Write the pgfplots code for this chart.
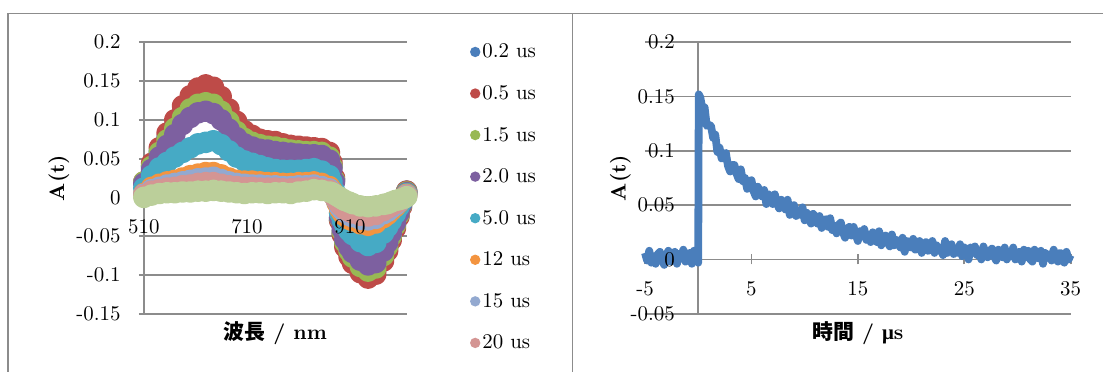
\documentclass[border=0pt]{standalone}
\usepackage{fontspec}
\usepackage{pgfplots}
\pgfplotsset{compat=1.18}
\usepackage{pgfplotstable}
\newfontfamily\cjk{Noto Sans CJK JP}
\newfontfamily\grk{Liberation Serif}
\definecolor{cA}{HTML}{4A7EBB}
\definecolor{cB}{HTML}{BE4B48}
\definecolor{cC}{HTML}{98B954}
\definecolor{cD}{HTML}{7D60A0}
\definecolor{cE}{HTML}{46AAC5}
\definecolor{cF}{HTML}{F39440}
\definecolor{cG}{HTML}{93A9D0}
\definecolor{cH}{HTML}{D49593}
\definecolor{cI}{HTML}{BBCF9A}
\definecolor{gridgray}{HTML}{8C8C8C}

\pgfplotstableread{
wl a b c d e f g h i
510 0.019 0.020 0.020 0.018 0.012 0.005 0.004 0.003 0.000
525 0.040 0.044 0.040 0.036 0.028 0.013 0.010 0.008 0.003
540 0.059 0.064 0.058 0.052 0.038 0.017 0.013 0.010 0.005
555 0.077 0.083 0.074 0.067 0.045 0.020 0.016 0.012 0.006
570 0.093 0.100 0.089 0.081 0.052 0.022 0.018 0.013 0.006
585 0.110 0.118 0.103 0.094 0.058 0.025 0.020 0.015 0.007
600 0.123 0.131 0.114 0.103 0.064 0.028 0.022 0.016 0.007
615 0.133 0.141 0.120 0.109 0.069 0.030 0.024 0.018 0.008
630 0.137 0.145 0.122 0.111 0.071 0.032 0.025 0.019 0.008
645 0.134 0.142 0.120 0.108 0.073 0.032 0.026 0.019 0.009
660 0.121 0.130 0.111 0.100 0.068 0.029 0.023 0.017 0.008
675 0.105 0.114 0.098 0.088 0.060 0.025 0.020 0.015 0.007
690 0.090 0.098 0.085 0.077 0.052 0.022 0.018 0.014 0.006
705 0.079 0.086 0.076 0.069 0.047 0.021 0.017 0.013 0.005
720 0.073 0.080 0.071 0.065 0.044 0.021 0.016 0.013 0.006
735 0.069 0.075 0.068 0.062 0.041 0.020 0.016 0.012 0.006
750 0.067 0.073 0.066 0.061 0.038 0.019 0.015 0.012 0.005
765 0.066 0.072 0.065 0.059 0.036 0.019 0.015 0.012 0.006
780 0.064 0.069 0.063 0.058 0.035 0.018 0.014 0.011 0.006
795 0.062 0.067 0.061 0.057 0.035 0.018 0.014 0.011 0.005
810 0.061 0.066 0.060 0.056 0.035 0.019 0.015 0.012 0.007
825 0.060 0.065 0.059 0.055 0.036 0.019 0.015 0.012 0.008
840 0.059 0.064 0.059 0.055 0.037 0.020 0.016 0.013 0.010
855 0.058 0.063 0.058 0.054 0.034 0.018 0.014 0.011 0.009
870 0.053 0.058 0.052 0.048 0.028 0.014 0.011 0.009 0.007
875 0.041 0.045 0.040 0.037 0.020 0.009 0.007 0.006 0.006
880 0.022 0.025 0.022 0.020 0.008 0.001 0.001 0.001 0.004
885 -0.005 -0.005 -0.004 -0.004 -0.006 -0.007 -0.005 -0.004 0.002
890 -0.029 -0.030 -0.027 -0.026 -0.020 -0.015 -0.012 -0.009 0.000
895 -0.046 -0.048 -0.044 -0.041 -0.029 -0.020 -0.016 -0.012 -0.002
900 -0.060 -0.064 -0.058 -0.054 -0.036 -0.024 -0.019 -0.015 -0.004
908 -0.071 -0.076 -0.069 -0.064 -0.043 -0.028 -0.023 -0.018 -0.006
915 -0.080 -0.085 -0.077 -0.071 -0.048 -0.030 -0.025 -0.020 -0.008
930 -0.091 -0.097 -0.089 -0.081 -0.057 -0.034 -0.028 -0.023 -0.011
945 -0.097 -0.104 -0.095 -0.087 -0.062 -0.036 -0.029 -0.024 -0.012
960 -0.093 -0.099 -0.091 -0.084 -0.058 -0.033 -0.027 -0.022 -0.011
975 -0.077 -0.082 -0.075 -0.069 -0.046 -0.026 -0.021 -0.017 -0.009
983 -0.065 -0.069 -0.063 -0.058 -0.038 -0.022 -0.018 -0.014 -0.008
990 -0.051 -0.055 -0.050 -0.046 -0.030 -0.017 -0.014 -0.011 -0.006
998 -0.037 -0.040 -0.036 -0.033 -0.021 -0.012 -0.010 -0.008 -0.004
1005 -0.023 -0.025 -0.022 -0.020 -0.012 -0.007 -0.006 -0.005 -0.003
1010 -0.011 -0.012 -0.010 -0.009 -0.006 -0.003 -0.003 -0.002 -0.002
1015 -0.001 -0.001 -0.001 -0.001 -0.001 0.000 0.000 0.000 -0.001
1020 0.008 0.008 0.007 0.006 0.005 0.004 0.003 0.002 0.001
}\spectra

\pgfplotstableread{
t v
-5.0 0.006
-4.8 -0.001
-4.6 0.008
-4.4 -0.003
-4.2 0.003
-4.0 -0.004
-3.8 0.005
-3.6 0.007
-3.4 0.000
-3.2 -0.005
-3.0 0.004
-2.8 0.008
-2.6 -0.002
-2.4 0.002
-2.2 0.007
-2.0 -0.004
-1.8 0.005
-1.6 0.001
-1.4 0.009
-1.2 -0.002
-1.0 0.000
-0.8 0.006
-0.6 -0.004
-0.4 0.008
-0.2 0.003
0.0 -0.003
0.05 0.152
0.2 0.149
0.4 0.138
0.6 0.140
0.8 0.123
1.0 0.124
1.2 0.123
1.4 0.112
1.6 0.115
1.8 0.099
2.0 0.103
2.2 0.093
2.4 0.095
2.6 0.098
2.8 0.086
3.0 0.081
3.2 0.087
3.4 0.087
3.6 0.079
3.8 0.074
4.0 0.083
4.2 0.072
4.4 0.075
4.6 0.065
4.8 0.069
5.0 0.073
5.2 0.063
5.4 0.058
5.6 0.067
5.8 0.062
6.0 0.058
6.2 0.064
6.4 0.051
6.6 0.060
6.8 0.058
7.0 0.051
7.2 0.060
7.4 0.052
7.6 0.047
7.8 0.055
8.0 0.050
8.2 0.046
8.4 0.055
8.6 0.041
8.8 0.048
9.0 0.050
9.2 0.040
9.4 0.045
9.6 0.041
9.8 0.048
10.0 0.036
10.2 0.043
10.4 0.038
10.6 0.033
10.8 0.042
11.0 0.039
11.2 0.033
11.4 0.040
11.6 0.029
11.8 0.034
12.0 0.037
12.2 0.030
12.4 0.038
12.6 0.027
12.8 0.031
13.0 0.024
13.2 0.032
13.4 0.034
13.6 0.025
13.8 0.020
14.0 0.028
14.2 0.030
14.4 0.022
14.6 0.030
14.8 0.023
15.0 0.017
15.2 0.026
15.4 0.023
15.6 0.028
15.8 0.018
16.0 0.023
16.2 0.016
16.4 0.025
16.6 0.018
16.8 0.016
17.0 0.026
17.2 0.013
17.4 0.019
17.6 0.022
17.8 0.016
18.0 0.012
18.2 0.023
18.4 0.013
18.6 0.018
18.8 0.015
19.0 0.011
19.2 0.020
19.4 0.007
19.6 0.017
19.8 0.014
20.0 0.011
20.2 0.019
20.4 0.009
20.6 0.011
20.8 0.017
21.0 0.006
21.2 0.014
21.4 0.016
21.6 0.008
21.8 0.011
22.0 0.017
22.2 0.006
22.4 0.013
22.6 0.008
22.8 0.011
23.0 0.004
23.2 0.017
23.4 0.006
23.6 0.011
23.8 0.014
24.0 0.005
24.2 0.009
24.4 0.006
24.6 0.014
24.8 0.003
25.0 0.011
25.2 0.009
25.4 0.000
25.6 0.011
25.8 0.006
26.0 0.012
26.2 0.004
26.4 0.008
26.6 0.000
26.8 0.012
27.0 0.006
27.2 0.002
27.4 0.008
27.6 0.010
27.8 0.003
28.0 -0.001
28.2 0.009
28.4 0.006
28.6 0.002
28.8 0.011
29.0 0.000
29.2 0.006
29.4 0.003
29.6 0.011
29.8 0.000
30.0 0.004
30.2 0.007
30.4 -0.002
30.6 0.009
30.8 0.002
31.0 0.008
31.2 0.000
31.4 -0.002
31.6 0.009
31.8 0.004
32.0 0.001
32.2 0.008
32.4 -0.004
32.6 0.006
32.8 0.003
33.0 0.005
33.2 -0.001
33.4 0.009
33.6 0.002
33.8 -0.002
34.0 0.006
34.2 0.005
34.4 -0.003
34.6 0.007
34.8 0.000
35.0 0.004
}\decay

\pgfplotsset{
  excelaxis/.style={
    scale only axis,
    anchor=south west,
    ymin=-0.15, ymax=0.2,
    tick align=outside,
    major tick length=5bp,
    clip=false,
    xticklabel style={yshift=-5bp},
    yticklabel style={xshift=-5.5bp},
  },
  noarrows/.style={
    axis line style={gridgray, line width=0.9bp, -},
    every inner x axis line/.append style={-},
    every inner y axis line/.append style={-},
    every outer x axis line/.append style={-},
    every outer y axis line/.append style={-},
    hide obscured x ticks=false,
    hide obscured y ticks=false,
  },
  basestyle/.style={
    ymajorgrids,
    grid style={gridgray, line width=0.9bp},
    major tick style={gridgray, line width=0.9bp},
  },
  overstyle/.style={
    axis line style={draw=none},
    major tick style={draw=none},
    every inner x axis line/.append style={draw=none},
    every inner y axis line/.append style={draw=none},
    every outer x axis line/.append style={draw=none},
    every outer y axis line/.append style={draw=none},
    hide obscured x ticks=false,
    hide obscured y ticks=false,
  },
  spec/.style={#1, line width=4.6bp, line join=round, mark=*, mark size=3.1bp, mark options={draw=none, fill=#1}},
}

\begin{document}
\fontsize{10.5}{12.6}\selectfont
\begin{tikzpicture}
\path (0,0) rectangle (552bp,186bp);
\draw[gridgray, line width=0.85bp] (4bp,0) -- (4bp,179.3bp) -- (552bp,179.3bp);
\draw[gridgray, line width=0.85bp] (286.5bp,0) -- (286.5bp,179.3bp);

% ---------- left: spectra ----------
\begin{axis}[excelaxis,
  at={(72bp,29bp)},
  width=131.5bp, height=135.85bp,
  xmin=510, xmax=1020,
  axis x line=middle, axis y line=left,
  noarrows, basestyle,
  xtick={510,710,910}, xticklabels={{},{},{}},
  ytick={-0.15,-0.1,-0.05,0,0.05,0.1,0.15,0.2},
  yticklabels={{},{},{},{},{},{},{},{}},
  xlabel={\bfseries{\cjk 波長} / nm},
  ylabel={\bfseries A(t)},
  xlabel style={at={(axis description cs:0.5,-0.07)}, anchor=center},
  ylabel style={at={(axis description cs:-0.323,0.5)}, anchor=center},
  legend style={draw=none, fill=none, at={(1.2395,1.01)}, anchor=north west,
    row sep=8.8bp, column sep=0bp, inner sep=0pt,
    nodes={inner sep=1bp, text height=8bp, text depth=2bp, anchor=west}},
  legend cell align=left,
  legend image code/.code={\path[fill, draw=none] (0bp,0bp) circle (2.6bp);},
]
\addplot[spec=cA] table[x=wl,y=a]{\spectra};
\addlegendentry{0.2 us}
\addplot[spec=cB] table[x=wl,y=b]{\spectra};
\addlegendentry{0.5 us}
\addplot[spec=cC] table[x=wl,y=c]{\spectra};
\addlegendentry{1.5 us}
\addplot[spec=cD] table[x=wl,y=d]{\spectra};
\addlegendentry{2.0 us}
\addplot[spec=cE] table[x=wl,y=e]{\spectra};
\addlegendentry{5.0 us}
\addplot[spec=cF] table[x=wl,y=f]{\spectra};
\addlegendentry{12 us}
\addplot[spec=cG] table[x=wl,y=g]{\spectra};
\addlegendentry{15 us}
\addplot[spec=cH] table[x=wl,y=h]{\spectra};
\addlegendentry{20 us}
\addplot[spec=cI, forget plot] table[x=wl,y=i]{\spectra};
\end{axis}
% tick labels drawn over the data, as in the reference
\begin{axis}[excelaxis,
  at={(72bp,29bp)},
  width=131.5bp, height=135.85bp,
  xmin=510, xmax=1020,
  axis x line=middle, axis y line=left,
  overstyle,
  xtick={510,710,910}, xticklabels={510,710,910},
  ytick={-0.15,-0.1,-0.05,0,0.05,0.1,0.15,0.2},
  yticklabels={-0.15,-0.1,-0.05,0,0.05,0.1,0.15,0.2},
]
\end{axis}

% ---------- right: kinetics ----------
\begin{axis}[excelaxis,
  at={(322.75bp,29bp)},
  width=213bp, height=135.85bp,
  xmin=-5, xmax=35,
  ymin=-0.05, ymax=0.2,
  axis x line=middle, axis y line=middle,
  noarrows, basestyle,
  xtick={-5,5,15,25,35}, xticklabels={{},{},{},{},{}},
  ytick={-0.05,0,0.05,0.1,0.15,0.2},
  yticklabels={{},{},{},{},{},{}},
  xlabel={\bfseries{\cjk 時間} / {\grk μ}s},
  ylabel={\bfseries A(t)},
  xlabel style={at={(axis description cs:0.5,-0.07)}, anchor=center},
  ylabel style={at={(axis description cs:-0.058,0.5)}, anchor=center, rotate=90},
]
\addplot[cA, line width=3.9bp, line join=round, no marks] table[x=t,y=v]{\decay};
\end{axis}
\begin{axis}[excelaxis,
  at={(322.75bp,29bp)},
  width=213bp, height=135.85bp,
  xmin=-5, xmax=35,
  ymin=-0.05, ymax=0.2,
  axis x line=middle, axis y line=middle,
  overstyle,
  xtick={-5,5,15,25,35}, xticklabels={-5,5,15,25,35},
  ytick={-0.05,0,0.05,0.1,0.15,0.2},
  yticklabels={-0.05,0,0.05,0.1,0.15,0.2},
]
\end{axis}
\end{tikzpicture}
\end{document}
